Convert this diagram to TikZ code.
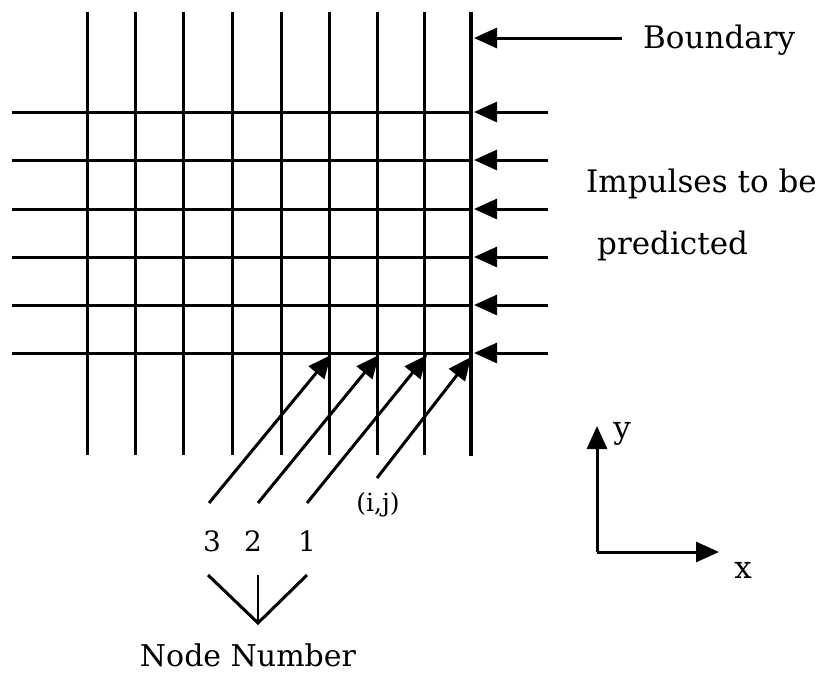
\documentclass[tikz,border=0pt]{standalone}
\usepackage{fontspec}
\setmainfont{DejaVu Serif}
\usetikzlibrary{arrows.meta}
\begin{document}
\begin{tikzpicture}[x=1pt,y=-1pt,
  gridline/.style={line width=3pt},
  bline/.style={line width=4.5pt},
  tip/.style={-{Triangle[length=23pt,width=20pt]}},
  arr/.style={line width=3pt,tip},
  lbl/.style={inner sep=0pt,font=\fontsize{31}{36}\selectfont}]
\useasboundingbox (0,0) rectangle (821,678);
% vertical grid lines
\foreach \x in {87,135,183,232,281,329,377,424}
  \draw[gridline] (\x,12) -- (\x,455);
\draw[bline] (471,12) -- (471,456);
% horizontal grid lines and impulse arrows
\foreach \y/\n in {112/a,160/b,209/c,257/d,305/e,353/f}{
  \draw[gridline] (12,\y) -- (471,\y);
  \coordinate (s\n) at (548,\y);
  \coordinate (t\n) at (474,\y);
  \draw[arr] (s\n) -- (t\n);
}
% boundary arrow
\coordinate (bs) at (622,38);
\coordinate (bt) at (474,38);
\draw[arr] (bs) -- (bt);
\node[lbl,anchor=west] (boundary) at (643,40) {Boundary};
\node[lbl,anchor=west] (imp) at (586,184) {Impulses to be};
\node[lbl,anchor=west] (pred) at (597,246) {predicted};
% diagonal arrows
\coordinate (d3s) at (209,503); \coordinate (d3t) at (331,355);
\coordinate (d2s) at (258,503); \coordinate (d2t) at (379,355);
\coordinate (d1s) at (307,503); \coordinate (d1t) at (427,355);
\coordinate (d0s) at (377,478); \coordinate (d0t) at (471,357);
\draw[arr] (d3s) -- (d3t);
\draw[arr] (d2s) -- (d2t);
\draw[arr] (d1s) -- (d1t);
\draw[arr] (d0s) -- (d0t);
\node[inner sep=0pt,font=\fontsize{25}{30}\selectfont] (ij) at (378,505) {(i,j)};
\node[inner sep=0pt,font=\fontsize{28}{32}\selectfont] (n3) at (212,541) {3};
\node[inner sep=0pt,font=\fontsize{28}{32}\selectfont] (n2) at (253,541) {2};
\node[inner sep=0pt,font=\fontsize{28}{32}\selectfont] (n1) at (307,541) {1};
% V bracket
\coordinate (vl) at (208,575);
\coordinate (vr) at (307,575);
\coordinate (vm) at (258,575);
\coordinate (vb) at (258,623);
\draw[line width=3pt,line join=miter] (vl) -- (vb) -- (vr);
\draw[line width=2pt] (vm) -- (vb);
\node[inner sep=0pt,font=\fontsize{30}{34}\selectfont] (nn) at (248,655) {Node Number};
% axes
\coordinate (o) at (597,552);
\coordinate (yt) at (597,426);
\coordinate (xt) at (719,552);
\draw[arr] (o) -- (yt);
\draw[arr] (o) -- (xt);
\node[lbl] (ylab) at (622,434) {y};
\node[lbl] (xlab) at (743,570) {x};
\end{tikzpicture}
\end{document}
